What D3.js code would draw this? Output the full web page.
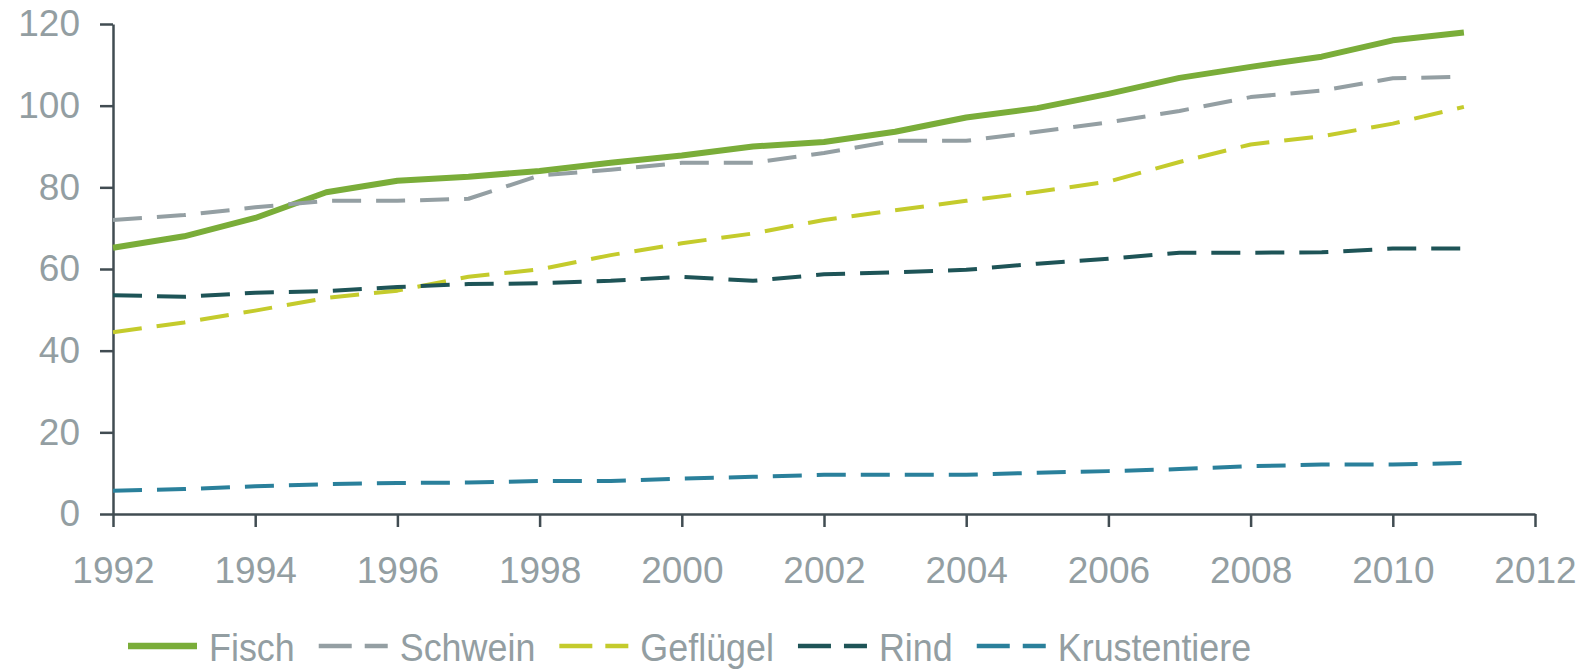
<!DOCTYPE html>
<html>
<head>
<meta charset="utf-8">
<script src="https://cdn.jsdelivr.net/npm/d3@7"></script>
<style>
  body { margin: 0; background: #fff; }
  svg { display: block; font-family: "Liberation Sans", Arial, sans-serif; }
</style>
</head>
<body>
<svg id="chart"></svg>
<script>
let years = [1992, 1993, 1994, 1995, 1996, 1997, 1998, 1999, 2000, 2001,
             2002, 2003, 2004, 2005, 2006, 2007, 2008, 2009, 2010, 2011]

let fisch        = [65.2, 68.0, 72.5, 78.8, 81.6, 82.6, 84.0, 86.0, 87.8, 90.0,
                    91.1, 93.6, 97.1, 99.4, 102.9, 106.8, 109.5, 112.0, 116.0, 117.9]
let schwein      = [72.0, 73.2, 75.1, 76.7, 76.7, 77.2, 82.9, 84.3, 86.0, 86.0,
                    88.4, 91.4, 91.4, 93.6, 95.9, 98.7, 102.1, 103.7, 106.7, 107.1]
let gefluegel    = [44.5, 46.9, 49.8, 52.9, 54.7, 58.1, 59.9, 63.4, 66.3, 68.7,
                    72.0, 74.4, 76.7, 78.9, 81.4, 86.2, 90.5, 92.5, 95.6, 99.7]
let rind         = [53.6, 53.2, 54.2, 54.6, 55.6, 56.3, 56.5, 57.1, 58.1, 57.1,
                    58.7, 59.2, 59.8, 61.3, 62.5, 64.0, 64.0, 64.1, 65.0, 65.0]
let krustentiere = [5.7, 6.1, 6.8, 7.3, 7.6, 7.7, 8.1, 8.1, 8.7, 9.1,
                    9.6, 9.6, 9.6, 10.1, 10.5, 11.0, 11.7, 12.1, 12.1, 12.5]

let seriesNames = ["Fisch", "Schwein", "Geflügel", "Rind", "Krustentiere"]
let seriesValues = [fisch, schwein, gefluegel, rind, krustentiere]
let colors = ["#7aad39", "#949fa3", "#c4cb2c", "#1e5457", "#2a809b"]

let xTicks = [1992, 1994, 1996, 1998, 2000, 2002, 2004, 2006, 2008, 2010, 2012]
let yTicks = [0, 20, 40, 60, 80, 100, 120]

let width = 1578
let height = 670
let plotLeft = 113
let plotRight = 1535
let plotTop = 24
let plotBottom = 514

let svg = d3.select('#chart')
            .attr('width', width)
            .attr('height', height)

let xScale = d3.scaleLinear().domain([1992, 2012]).range([plotLeft, plotRight])
let yScale = d3.scaleLinear().domain([0, 120]).range([plotBottom, plotTop])

let axisColor = "#414c52"
let labelColor = "#939ea2"

// axes
let xAxis = d3.axisBottom(xScale)
              .tickValues(xTicks)
              .tickFormat(d3.format('d'))
              .tickSize(13)
              .tickSizeOuter(0)
              .tickPadding(30)

let yAxis = d3.axisLeft(yScale)
              .tickValues(yTicks)
              .tickSize(13)
              .tickSizeOuter(0)
              .tickPadding(20)

let gx = svg.append('g')
            .attr('transform', 'translate(0,' + plotBottom + ')')
            .call(xAxis)

let gy = svg.append('g')
            .attr('transform', 'translate(' + plotLeft + ',0)')
            .call(yAxis)

for (let g of [gx, gy]) {
    g.select('.domain').attr('stroke', axisColor).attr('stroke-width', 2.5)
    g.selectAll('.tick line').attr('stroke', axisColor).attr('stroke-width', 2.5)
    g.selectAll('.tick text')
     .attr('fill', labelColor)
     .style('font-size', '37px')
     .style('font-family', '"Liberation Sans", Arial, sans-serif')
}

// lines
let line = d3.line()
             .x((d, i) => xScale(years[i]))
             .y((d) => yScale(d))

seriesValues.forEach((vals, k) => {
    svg.append('path')
       .datum(vals)
       .attr('d', line)
       .attr('fill', 'none')
       .attr('stroke', colors[k])
       .attr('stroke-width', k == 0 ? 6 : 4)
       .attr('stroke-linejoin', 'round')
       .attr('stroke-dasharray', k == 0 ? null : '29,15')
})

// legend (text is slightly condensed in the original)
let legendY = 646
let cursor = 128
let symW = 69
let squeeze = 0.92

seriesNames.forEach((name, k) => {
    svg.append('line')
       .attr('x1', cursor)
       .attr('x2', cursor + symW)
       .attr('y1', legendY)
       .attr('y2', legendY)
       .attr('stroke', colors[k])
       .attr('stroke-width', k == 0 ? 6.5 : 4.5)
       .attr('stroke-dasharray', k == 0 ? null : '33,13')

    let tx = cursor + symW + 12
    let t = svg.append('text')
               .attr('transform', 'translate(' + tx + ',' + (legendY + 15) + ') scale(' + squeeze + ',1)')
               .attr('fill', labelColor)
               .style('font-size', '39px')
               .text(name)
    cursor = tx + t.node().getComputedTextLength() * squeeze + 24
})
</script>
</body>
</html>
